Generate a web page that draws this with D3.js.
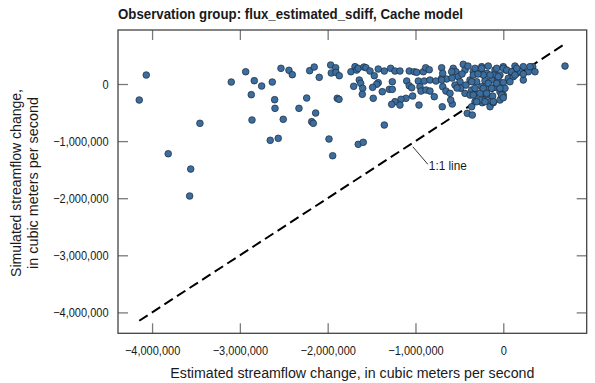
<!DOCTYPE html>
<html>
<head>
<meta charset="utf-8">
<script src="https://cdn.jsdelivr.net/npm/d3@7"></script>
<style>
  html, body { margin: 0; padding: 0; background: #fff; }
  svg { display: block; }
  text { font-family: "Liberation Sans", Arial, Helvetica, sans-serif; fill: #1a1a1a; }
</style>
</head>
<body>
<svg id="chart" width="595" height="383"></svg>
<script>
// Estimated streamflow change (cubic meters per second), in thousands
const estimatedK = [
  -4066,-4146,-3455,-3816,-3560,-3572,-3098,-2934,-2836,-2752,
  -2631,-2532,-2441,-2403,-2870,-2604,-2600,-2862,-2506,-2327,
  -2239,-2137,-2182,-2164,-2654,-2563,-2205,-2153,-2096,-1966,
  -1909,-1959,-1906,-1868,-1891,-1871,-1985,-1943,-1735,-1689,
  -1670,-1652,-1587,-1640,-1624,-1704,-1601,-1606,-1652,-1595,
  -1564,-1518,-1469,-1424,-1355,-1283,-1234,-1177,-1071,-1014,
  -986,-911,-884,-843,-702,-1424,-1442,-1264,-1488,-1378,
  -1298,-1264,-1481,-1100,-1071,-1043,-968,-900,-835,-767,
  -949,-937,-880,-835,-1032,-1108,-1165,-1234,-1271,-1177,
  -786,-960,-695,-1355,-702,-581,-690,-690,-653,-607,
  -599,-570,-539,-513,-456,-436,-493,-550,-485,-425,
  -379,-342,-303,-360,-436,-379,-322,-645,-410,-353,
  -322,-246,-171,-95,0,31,133,228,285,228,
  153,96,57,-342,-265,-189,-114,-38,-360,-208,
  -132,-57,0,-322,-246,-171,-95,-18,-342,-265,
  -189,-121,-38,0,-228,-151,-18,-322,-360,-151,
  -239,-114,99,190,228,335,361,114,703,304,
  -75,-57,-75,-38,76,19,-151,-171,-265,
  -246,-228,-228,-132,-189,-38,0,39,-18,-114,
  -208,-303,96,133,0,153,-702,-584,-527,-470,
  -402,-288,-588
];
// Simulated streamflow change (cubic meters per second), in thousands
const simulatedK = [
  158,-280,-688,-1221,-1489,-1961,35,215,58,-35,
  35,275,240,163,-187,-275,-426,-630,-618,-426,
  -245,-508,-660,-688,-986,-951,233,298,117,333,
  285,193,205,145,-250,-268,-963,-1256,215,303,
  245,275,298,70,12,-40,-75,-180,-1056,-1021,
  285,228,145,263,228,275,228,228,228,215,
  205,215,285,250,285,23,-5,40,-58,-135,
  -93,-93,-250,53,-30,-65,53,53,70,53,
  -47,-123,-105,-123,-210,-250,-268,-310,-356,-368,
  -222,-368,-398,-718,100,-350,187,-47,-123,-163,
  -280,275,215,128,345,245,40,-18,-75,-18,
  70,215,40,-105,-163,-193,-180,88,-513,-543,
  275,303,315,245,303,245,315,303,215,70,
  187,158,100,158,187,187,158,158,40,58,
  70,58,23,-75,-47,-75,-58,-75,-193,-163,
  -193,-210,-135,-193,-280,-310,-222,-310,-398,-398,
  -327,-327,215,215,175,303,215,128,315,303,
  275,128,12,-280,40,-75,158,12,-280,
  275,158,-75,-75,-163,-75,275,245,-193,-310,
  -310,-310,215,158,-240,275,70,105,-70,175,
  315,175,215
];
const xTickValues = [-4000000, -3000000, -2000000, -1000000, 0];
const yTickValues = [0, -1000000, -2000000, -3000000, -4000000];
const chartTitle = "Observation group: flux_estimated_sdiff, Cache model";
const xTitle = "Estimated streamflow change, in cubic meters per second";
const yTitleLines = ["Simulated streamflow change,", "in cubic meters per second"];
const lineLabel = "1:1 line";

const points = estimatedK.map((e, i) => ({ x: e * 1000, y: simulatedK[i] * 1000 }));

const svg = d3.select("#chart");
const L = 118, R = 586.7, T = 30, B = 333.3;

const x = d3.scaleLinear().domain([-4388000, 950000]).range([L, R]);
const y = d3.scaleLinear().domain([-4366000, 946000]).range([B, T]);
const fmt = d3.format(",");

// squeeze text horizontally to mimic a condensed typeface
function squeeze(sel, factor) {
  sel.each(function () {
    const len = this.getComputedTextLength();
    if (len > 0) d3.select(this).attr("textLength", len * factor).attr("lengthAdjust", "spacingAndGlyphs");
  });
}

// Title
svg.append("text")
  .attr("x", L).attr("y", 18.5)
  .style("font-weight", "bold").style("font-size", "15.5px")
  .text(chartTitle)
  .attr("textLength", 345).attr("lengthAdjust", "spacingAndGlyphs");

// 1:1 line
const lo = d3.min(points, d => d.x), hi = d3.max(points, d => d.x);
svg.append("line")
  .attr("x1", x(lo)).attr("y1", y(lo))
  .attr("x2", x(hi)).attr("y2", y(hi))
  .attr("stroke", "#000").attr("stroke-width", 2)
  .attr("stroke-dasharray", "10,5");

// Points
svg.append("g").selectAll("circle")
  .data(points).join("circle")
  .attr("cx", d => x(d.x)).attr("cy", d => y(d.y))
  .attr("r", 3.35)
  .attr("fill", "#3b6d9f")
  .attr("stroke", "#1b2b3b").attr("stroke-width", 0.7);

// Axes (ticks inward on all four sides)
const tickLen = 10;
const styleAxis = g => {
  g.select(".domain").remove();
  g.selectAll(".tick line").attr("stroke", "#7a7a7a").attr("stroke-width", 1.3);
  g.selectAll(".tick text").style("font-size", "12.5px").attr("fill", "#1a1a1a").call(squeeze, 0.88);
};
svg.append("g").attr("transform", `translate(0,${B})`)
  .call(d3.axisBottom(x).tickValues(xTickValues).tickFormat(fmt).tickSizeInner(-tickLen).tickSizeOuter(0).tickPadding(12.7))
  .call(styleAxis);
svg.append("g").attr("transform", `translate(0,${T})`)
  .call(d3.axisTop(x).tickValues(xTickValues).tickFormat("").tickSizeInner(-tickLen).tickSizeOuter(0))
  .call(styleAxis);
svg.append("g").attr("transform", `translate(${L},0)`)
  .call(d3.axisLeft(y).tickValues(yTickValues).tickFormat(fmt).tickSizeInner(-tickLen).tickSizeOuter(0).tickPadding(9.5))
  .call(styleAxis);
svg.append("g").attr("transform", `translate(${R},0)`)
  .call(d3.axisRight(y).tickValues(yTickValues).tickFormat("").tickSizeInner(-tickLen).tickSizeOuter(0))
  .call(styleAxis);

// Frame
svg.append("rect")
  .attr("x", L).attr("y", T).attr("width", R - L).attr("height", B - T)
  .attr("fill", "none").attr("stroke", "#444").attr("stroke-width", 1.3);

// Axis titles
svg.append("text")
  .attr("x", (L + R) / 2).attr("y", 377.7)
  .attr("text-anchor", "middle").style("font-size", "14px")
  .text(xTitle)
  .attr("textLength", 364).attr("lengthAdjust", "spacingAndGlyphs");
const yTitleWidths = [188, 172];
svg.selectAll(".ytitle").data(yTitleLines).join("text")
  .attr("class", "ytitle")
  .attr("transform", (d, i) => `translate(${i === 0 ? 20.5 : 37.5},183) rotate(-90)`)
  .attr("text-anchor", "middle").style("font-size", "14px")
  .text(d => d)
  .attr("textLength", (d, i) => yTitleWidths[i]).attr("lengthAdjust", "spacingAndGlyphs");

// 1:1 line annotation
const ax = -1030000;
const ap = [x(ax), y(ax)];
svg.append("line")
  .attr("x1", ap[0]).attr("y1", ap[1] + 4)
  .attr("x2", ap[0] + 15).attr("y2", ap[1] + 21.5)
  .attr("stroke", "#000").attr("stroke-width", 0.8);
svg.append("text")
  .attr("x", ap[0] + 16).attr("y", ap[1] + 27)
  .style("font-size", "12.5px")
  .text(lineLabel)
  .attr("textLength", 38).attr("lengthAdjust", "spacingAndGlyphs");
</script>
</body>
</html>
